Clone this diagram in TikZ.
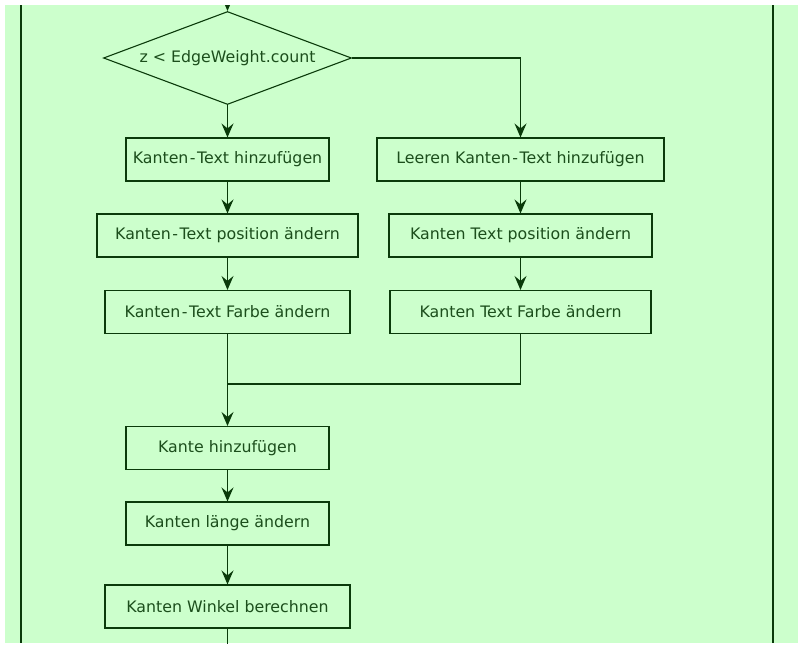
\documentclass[tikz,border=0pt]{standalone}
\usepackage{fontspec}
\setmainfont{DejaVu Sans}
\usetikzlibrary{arrows.meta,shapes.geometric}
\definecolor{bg}{RGB}{204,255,204}
\definecolor{ln}{RGB}{10,58,10}
\definecolor{tx}{RGB}{28,78,28}
\newcommand{\hy}{\kern1.5pt-\kern1.5pt}
\begin{document}
\begin{tikzpicture}[x=1pt,y=-1pt,
  box/.style={draw=ln,line width=1.1pt,fill=bg,text=tx,font=\fontsize{15.8}{18}\selectfont,inner sep=0pt,minimum height=43pt},
  dec/.style={draw=ln,line width=1.1pt,fill=bg,text=tx,font=\fontsize{15.8}{18}\selectfont,diamond,aspect=2.67,inner sep=0pt,minimum width=248pt,minimum height=93pt},
  flow/.style={draw=ln,line width=1.2pt,-{Stealth[length=14pt,width=12pt,inset=5pt]}},
  plain/.style={draw=ln,line width=1.1pt}]
\useasboundingbox (0,0) rectangle (798,645);
\fill[bg] (5,5) rectangle (798,643);
\draw[ln,line width=1.6pt] (21,5) -- (21,643);
\draw[ln,line width=1.6pt] (773,5) -- (773,643);
\node[dec] (d) at (227.5,58) {z < EdgeWeight.count};
\node[box,minimum width=203pt] (b1) at (227.5,159.5) {Kanten\hy Text hinzufügen};
\node[box,minimum width=261pt] (b2) at (227.5,235.5) {Kanten\hy Text position ändern};
\node[box,minimum width=245pt] (b3) at (227.5,312) {Kanten\hy Text Farbe ändern};
\node[box,minimum width=287pt] (r1) at (520.5,159.5) {Leeren Kanten\hy Text hinzufügen};
\node[box,minimum width=263pt] (r2) at (520.5,235.5) {Kanten Text position ändern};
\node[box,minimum width=261pt] (r3) at (520.5,312) {Kanten Text Farbe ändern};
\node[box,minimum width=203pt] (b4) at (227.5,448) {Kante hinzufügen};
\node[box,minimum width=203pt] (b5) at (227.5,523.5) {Kanten länge ändern};
\node[box,minimum width=245pt] (b6) at (227.5,606.5) {Kanten Winkel berechnen};
\coordinate (top) at (227.5,0);
\coordinate (m) at (227.5,384);
\coordinate (bot) at (227.5,645);
\begin{scope}
\clip (0,5) rectangle (798,643);
\draw[flow] (top) -- (d.north);
\draw[plain] (b6.south) -- (bot);
\end{scope}
\draw[flow] (d.south) -- (b1.north);
\draw[flow] (d.east) -| (r1.north);
\draw[flow] (b1) -- (b2);
\draw[flow] (b2) -- (b3);
\draw[flow] (r1) -- (r2);
\draw[flow] (r2) -- (r3);
\draw[plain] (r3.south) |- (m);
\draw[flow] (b3.south) -- (b4.north);
\draw[flow] (b4) -- (b5);
\draw[flow] (b5) -- (b6);
\end{tikzpicture}
\end{document}
